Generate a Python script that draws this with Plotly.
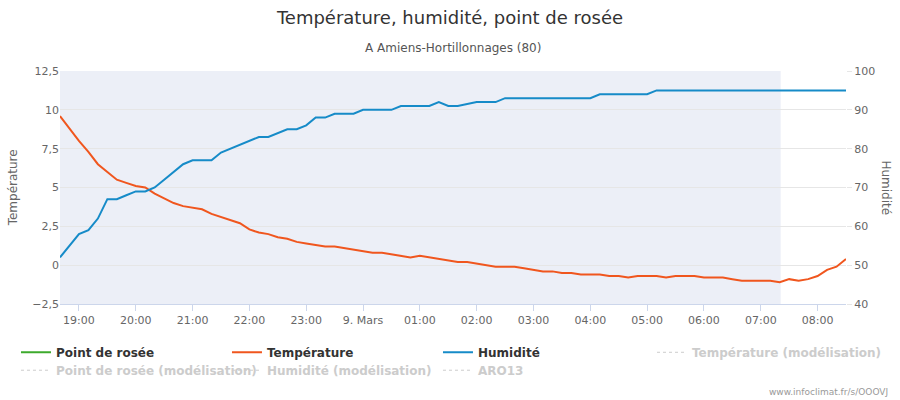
import plotly.graph_objects as go
import pandas as pd

# mesures toutes les 10 minutes, du 8 mars 18:40 au 9 mars 08:30
heures = pd.date_range("2021-03-08 18:40", "2021-03-09 08:30", freq="10min")

temperature = [
    9.6, 8.8, 8.0, 7.3, 6.5, 6.0, 5.5, 5.3, 5.1, 5.0,
    4.6, 4.3, 4.0, 3.8, 3.7, 3.6, 3.3, 3.1, 2.9, 2.7,
    2.3, 2.1, 2.0, 1.8, 1.7, 1.5, 1.4, 1.3, 1.2, 1.2,
    1.1, 1.0, 0.9, 0.8, 0.8, 0.7, 0.6, 0.5, 0.6, 0.5,
    0.4, 0.3, 0.2, 0.2, 0.1, 0.0, -0.1, -0.1, -0.1, -0.2,
    -0.3, -0.4, -0.4, -0.5, -0.5, -0.6, -0.6, -0.6, -0.7, -0.7,
    -0.8, -0.7, -0.7, -0.7, -0.8, -0.7, -0.7, -0.7, -0.8, -0.8,
    -0.8, -0.9, -1.0, -1.0, -1.0, -1.0, -1.1, -0.9, -1.0, -0.9,
    -0.7, -0.3, -0.1, 0.4,
]

humidite = [
    52, 55, 58, 59, 62, 67, 67, 68, 69, 69,
    70, 72, 74, 76, 77, 77, 77, 79, 80, 81,
    82, 83, 83, 84, 85, 85, 86, 88, 88, 89,
    89, 89, 90, 90, 90, 90, 91, 91, 91, 91,
    92, 91, 91, 91.5, 92, 92, 92, 93, 93, 93,
    93, 93, 93, 93, 93, 93, 93, 94, 94, 94,
    94, 94, 94, 95, 95, 95, 95, 95, 95, 95,
    95, 95, 95, 95, 95, 95, 95, 95, 95, 95,
    95, 95, 95, 95,
]

# graduations de l'axe du temps
ticks_x = pd.date_range("2021-03-08 19:00", "2021-03-09 08:00", freq="1h")
ticks_txt = ["19:00", "20:00", "21:00", "22:00", "23:00", "9. Mars", "01:00",
             "02:00", "03:00", "04:00", "05:00", "06:00", "07:00", "08:00"]

ticks_temp = [-2.5, 0, 2.5, 5, 7.5, 10, 12.5]
ticks_hum = [40, 50, 60, 70, 80, 90, 100]

fin_nuit = "2021-03-09 07:21"

fig = go.Figure()

fig.add_trace(go.Scatter(x=[heures[0]], y=[None], name="<b>Point de rosée</b>", mode="lines",
                         line=dict(color="#3DAA2C", width=2)))
fig.add_trace(go.Scatter(x=heures, y=temperature, name="<b>Température</b>", mode="lines",
                         line=dict(color="#F0561E", width=2)))
fig.add_trace(go.Scatter(x=heures, y=humidite, name="<b>Humidité</b>", mode="lines",
                         line=dict(color="#168BC8", width=2), yaxis="y2"))

# séries masquées (modèles)
gris = [("Température (modélisation)", "legend2"),
        ("Point de rosée (modélisation)", "legend3"),
        ("Humidité (modélisation)", "legend3"),
        ("ARO13", "legend3")]
for nom, leg in gris:
    fig.add_trace(go.Scatter(x=[heures[0]], y=[None], mode="lines", legend=leg,
                             name='<span style="color:#cccccc"><b>' + nom + '</b></span>',
                             line=dict(color="#cccccc", width=1, dash="dot")))

# nuit
fig.add_shape(type="rect", xref="x", yref="paper", x0=heures[0], x1=fin_nuit,
              y0=0, y1=1, fillcolor="#ECEFF7", line_width=0, layer="below")

leg_font = dict(family="DejaVu Sans", size=12, color="#333333")

fig.update_layout(
    width=900, height=400,
    margin=dict(l=60, r=54, t=71, b=96, autoexpand=False),
    paper_bgcolor="white", plot_bgcolor="white",
    separators=", ",
    font=dict(family="DejaVu Sans", size=11, color="#666666"),
    title=dict(text="Température, humidité, point de rosée", x=0.5, xanchor="center",
               y=0.955, yanchor="middle", font=dict(size=18, color="#333333")),
    xaxis=dict(range=[heures[0], heures[-1]], tickvals=ticks_x, ticktext=ticks_txt,
               showgrid=False, showline=True, linecolor="#ccd6eb", ticks="outside",
               tickcolor="#ccd6eb", ticklen=6, tickfont=dict(size=11, color="#666666"),
               zeroline=False, automargin=False),
    yaxis=dict(range=[-2.5, 12.5], tickvals=ticks_temp,
               ticktext=["−2,5", "0", "2,5", "5", "7,5", "10", "12,5"],
               gridcolor="#e6e6e6", zeroline=False, ticks="", automargin=False),
    yaxis2=dict(range=[40, 100], tickvals=ticks_hum, overlaying="y", side="right",
                showgrid=False, zeroline=False, ticks="outside", ticklen=5,
                tickcolor="#e6e6e6", automargin=False),
    legend=dict(orientation="h", x=-0.056, xanchor="left", y=-0.145, yanchor="top",
                entrywidth=166, entrywidthmode="pixels", itemwidth=30,
                font=leg_font, tracegroupgap=0),
    legend2=dict(orientation="h", x=0.7532, xanchor="left", y=-0.145, yanchor="top",
                 itemwidth=30, font=leg_font, bgcolor="rgba(0,0,0,0)"),
    legend3=dict(orientation="h", x=-0.056, xanchor="left", y=-0.222, yanchor="top",
                 entrywidth=166, entrywidthmode="pixels", itemwidth=30,
                 font=leg_font, bgcolor="rgba(0,0,0,0)"),
    showlegend=True,
)

fig.add_annotation(text="A Amiens-Hortillonnages (80)", xref="paper", yref="paper",
                   x=0.5, xanchor="center", y=1.1, yanchor="middle", showarrow=False,
                   font=dict(size=12, color="#555555"))
fig.add_annotation(text="Température", xref="paper", yref="paper", textangle=-90,
                   x=-0.06, xanchor="center", y=0.5, yanchor="middle", showarrow=False,
                   font=dict(size=12, color="#666666"))
fig.add_annotation(text="Humidité", xref="paper", yref="paper", textangle=90,
                   x=1.051, xanchor="center", y=0.5, yanchor="middle", showarrow=False,
                   font=dict(size=12, color="#666666"))
fig.add_annotation(text="www.infoclimat.fr/s/OOOVJ", xref="paper", yref="paper",
                   x=1.056, xanchor="right", y=-0.378, yanchor="middle", showarrow=False,
                   font=dict(size=9, color="#999999"))

fig.write_html("out.html", config={"displayModeBar": False},
               post_script="document.body.style.margin='0';")
